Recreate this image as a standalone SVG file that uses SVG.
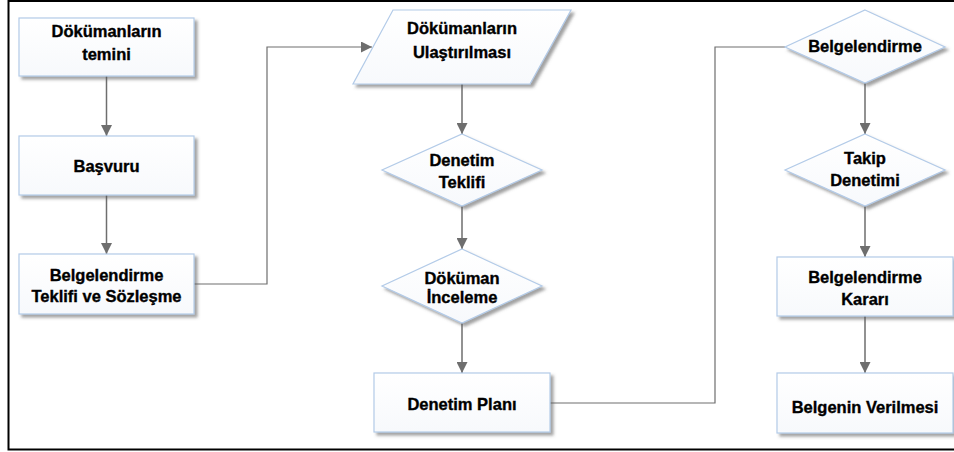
<svg xmlns="http://www.w3.org/2000/svg" width="954" height="452" viewBox="0 0 954 452">
<defs>
<filter id="sh" x="-10%" y="-10%" width="130%" height="140%">
<feDropShadow dx="3" dy="3" stdDeviation="1.5" flood-color="#555" flood-opacity="0.55"/>
</filter>
<linearGradient id="fillg" x1="0" y1="0" x2="0" y2="1">
<stop offset="0" stop-color="#ffffff"/>
<stop offset="1" stop-color="#f7f9fc"/>
</linearGradient>
<marker id="ah" markerWidth="11" markerHeight="11" refX="11" refY="5.5" orient="auto" markerUnits="userSpaceOnUse">
<path d="M0,0 L11,5.5 L0,11 Z" fill="#6e6e6e"/>
</marker>
</defs>
<style>
.n{fill:url(#fillg);stroke:#b3cbe8;stroke-width:1.2;filter:url(#sh)}
.t{font-family:"Liberation Sans",Arial,sans-serif;font-weight:bold;font-size:16.5px;fill:#000;stroke:#000;stroke-width:0.35;text-anchor:middle}
.c{fill:none;stroke:#6e6e6e;stroke-width:1.5}
.c1{fill:none;stroke:#6e6e6e;stroke-width:1.2}
</style>
<rect x="0" y="0" width="954" height="452" fill="#ffffff"/>
<rect x="8.5" y="1" width="960" height="448.5" fill="none" stroke="#000" stroke-width="2"/>
<g id="connectors">
<line class="c" x1="106.5" y1="76" x2="106.5" y2="136" marker-end="url(#ah)"/>
<line class="c" x1="106.5" y1="195" x2="106.5" y2="254" marker-end="url(#ah)"/>
<polyline class="c1" points="194,284 267,284 267,47 372,47" marker-end="url(#ah)"/>
<line class="c" x1="462" y1="84" x2="462" y2="134" marker-end="url(#ah)"/>
<line class="c" x1="462" y1="206" x2="462" y2="249" marker-end="url(#ah)"/>
<line class="c" x1="462" y1="323" x2="462" y2="373" marker-end="url(#ah)"/>
<polyline class="c1" points="550,403 715,403 715,47 785,47"/>
<line class="c" x1="865" y1="83" x2="865" y2="134" marker-end="url(#ah)"/>
<line class="c" x1="865" y1="206" x2="865" y2="257" marker-end="url(#ah)"/>
<line class="c" x1="865" y1="316" x2="865" y2="373" marker-end="url(#ah)"/>
</g>
<g id="n1">
<rect class="n" x="19" y="18" width="175" height="58"/>
<text class="t" x="106.5" y="37">Dökümanların</text>
<text class="t" x="106.5" y="60">temini</text>
</g>
<g id="n2">
<rect class="n" x="19" y="136" width="175" height="59"/>
<text class="t" x="106.5" y="172">Başvuru</text>
</g>
<g id="n3">
<rect class="n" x="19" y="254" width="175" height="60"/>
<text class="t" x="106.5" y="281">Belgelendirme</text>
<text class="t" x="106.5" y="302">Teklifi ve Sözleşme</text>
</g>
<g id="n4">
<polygon class="n" points="393,10 571,10 530,84 353,84"/>
<text class="t" x="462" y="34">Dökümanların</text>
<text class="t" x="462" y="58">Ulaştırılması</text>
</g>
<g id="n5">
<polygon class="n" points="462,134 542,170 462,206 382,170"/>
<text class="t" x="462" y="166">Denetim</text>
<text class="t" x="462" y="188">Teklifi</text>
</g>
<g id="n6">
<polygon class="n" points="462,249 542,286 462,323 382,286"/>
<text class="t" x="462" y="284">Döküman</text>
<text class="t" x="462" y="303">İnceleme</text>
</g>
<g id="n7">
<rect class="n" x="374" y="373" width="176" height="59"/>
<text class="t" x="462" y="410">Denetim Planı</text>
</g>
<g id="n8">
<polygon class="n" points="865,10 945,47 865,83 785,47"/>
<text class="t" x="865" y="52">Belgelendirme</text>
</g>
<g id="n9">
<polygon class="n" points="865,134 945,170 865,206 785,170"/>
<text class="t" x="865" y="164">Takip</text>
<text class="t" x="865" y="186">Denetimi</text>
</g>
<g id="n10">
<rect class="n" x="777" y="257" width="176" height="59"/>
<text class="t" x="865" y="283">Belgelendirme</text>
<text class="t" x="865" y="305">Kararı</text>
</g>
<g id="n11">
<rect class="n" x="777" y="373" width="176" height="60"/>
<text class="t" x="865" y="413">Belgenin Verilmesi</text>
</g>
</svg>
